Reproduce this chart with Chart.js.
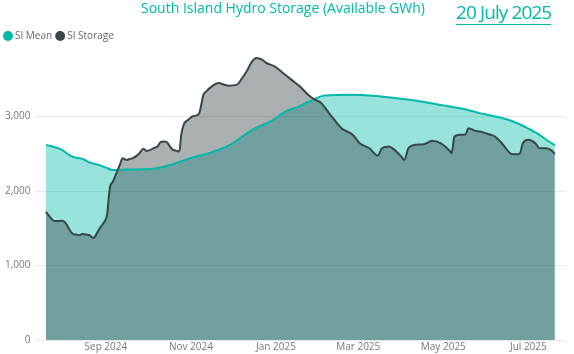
<!DOCTYPE html>
<html>
<head>
<meta charset="utf-8">
<script src="https://cdn.jsdelivr.net/npm/chart.js@4/dist/chart.umd.min.js"></script>
<style>
  body { margin: 0; background: #fff; }
  #wrap { position: relative; width: 574px; height: 354px; }
  #date {
    position: absolute; left: 456px; top: -1px;
    font-family: 'Open Sans', sans-serif; font-size: 19px; letter-spacing: -0.9px;
    color: #01B8AA; text-decoration: underline; text-underline-offset: 5px;
    text-decoration-thickness: 1px;
  }
</style>
</head>
<body>
<div id="wrap">
  <canvas id="myChart" width="574" height="354"></canvas>
  <div id="date">20 July 2025</div>
</div>
<script>
// Day offsets are counted from 20 July 2024
var startDate = '2024-07-20';

// SI Mean (GWh)
var meanDays = [0, 10, 19, 27, 31, 39, 43, 48, 60, 75, 89, 103, 118, 132, 148, 161, 173, 180, 189, 200, 218, 237, 254, 261, 285, 302, 311, 319, 335, 352, 364, 365];
var meanValues = [2620, 2565, 2462, 2425, 2385, 2345, 2314, 2283, 2290, 2295, 2350, 2439, 2516, 2620, 2822, 2934, 3078, 3123, 3203, 3284, 3294, 3275, 3240, 3225, 3150, 3092, 3046, 3015, 2934, 2776, 2628, 2620];

// SI Storage (GWh)
var storageDays = [0, 3, 6, 12, 15, 17, 19, 22, 24, 26, 29, 31, 34, 35, 37, 39, 41, 44, 45, 46, 48, 51, 53, 55, 58, 60, 62, 65, 67, 70, 72, 75, 77, 80, 82, 84, 87, 89, 91, 94, 95, 96, 97, 99, 101, 103, 105, 108, 110, 113, 115, 119, 124, 128, 131, 137, 140, 144, 148, 151, 155, 158, 164, 170, 176, 182, 188, 193, 197, 204, 212, 220, 225, 232, 238, 241, 246, 250, 255, 257, 260, 265, 271, 277, 283, 290, 291, 293, 297, 301, 303, 308, 313, 319, 322, 327, 333, 336, 340, 342, 346, 351, 354, 359, 363, 365];
var storageValues = [1720, 1650, 1598, 1600, 1546, 1478, 1429, 1415, 1407, 1424, 1415, 1410, 1370, 1384, 1451, 1509, 1563, 1700, 1900, 2058, 2125, 2260, 2350, 2439, 2418, 2431, 2439, 2472, 2507, 2566, 2539, 2553, 2574, 2597, 2651, 2664, 2651, 2597, 2553, 2539, 2530, 2560, 2750, 2900, 2943, 2970, 3001, 3015, 3046, 3294, 3338, 3406, 3450, 3428, 3415, 3428, 3496, 3608, 3743, 3787, 3765, 3720, 3675, 3585, 3496, 3406, 3294, 3226, 3190, 3024, 2844, 2755, 2642, 2574, 2476, 2574, 2597, 2553, 2460, 2418, 2574, 2620, 2628, 2674, 2642, 2530, 2507, 2732, 2755, 2760, 2844, 2808, 2790, 2755, 2732, 2642, 2507, 2493, 2507, 2642, 2687, 2642, 2574, 2574, 2539, 2495];

// x axis ticks (first of month)
var tickDates = ['2024-09-01', '2024-11-01', '2025-01-01', '2025-03-01', '2025-05-01', '2025-07-01'];
var tickLabels = ['Sep 2024', 'Nov 2024', 'Jan 2025', 'Mar 2025', 'May 2025', 'Jul 2025'];
var yTicks = [0, 1000, 2000, 3000];

function dayOf(s) {
    return Math.round((Date.parse(s) - Date.parse(startDate)) / 86400000);
}
var tickDays = tickDates.map(dayOf);

function toPoints(days, values) {
    return days.map(function (d, i) { return { x: d, y: values[i] }; });
}

var font = "'Open Sans', sans-serif";

var ctx = document.getElementById('myChart').getContext('2d');
var myChart = new Chart(ctx, {
    type: 'line',
    data: {
        datasets: [{
            label: 'SI Mean',
            data: toPoints(meanDays, meanValues),
            borderColor: '#01B8AA',
            backgroundColor: 'rgba(1, 184, 170, 0.4)',
            borderWidth: 2,
            fill: 'origin',
            pointRadius: 0,
            cubicInterpolationMode: 'monotone',
            order: 1
        }, {
            label: 'SI Storage',
            data: toPoints(storageDays, storageValues),
            borderColor: '#374649',
            backgroundColor: 'rgba(55, 70, 73, 0.42)',
            borderWidth: 2,
            fill: 'origin',
            pointRadius: 0,
            cubicInterpolationMode: 'monotone',
            order: 0
        }]
    },
    options: {
        responsive: false,
        animation: false,
        layout: { padding: { left: 0, right: 8, top: 0, bottom: 0 } },
        plugins: {
            filler: { drawTime: 'beforeDatasetsDraw' },
            tooltip: { enabled: false },
            title: {
                display: true,
                text: 'South Island Hydro Storage (Available GWh)',
                color: '#01B8AA',
                font: { family: font, size: 14, weight: 'normal', lineHeight: 1 },
                padding: { top: 2, bottom: 9 }
            },
            legend: {
                align: 'start',
                labels: {
                    usePointStyle: true,
                    pointStyle: 'circle',
                    boxWidth: 4,
                    boxHeight: 7,
                    padding: 6,
                    color: '#666',
                    font: { family: font, size: 10 },
                    sort: function (a, b) { return a.datasetIndex - b.datasetIndex; },
                    generateLabels: function (chart) {
                        var items = Chart.defaults.plugins.legend.labels.generateLabels(chart);
                        items.forEach(function (it) {
                            it.fillStyle = it.strokeStyle;
                            it.lineWidth = 0;
                        });
                        return items;
                    }
                }
            }
        },
        scales: {
            x: {
                type: 'linear',
                min: -7.5,
                max: 373,
                grid: { display: false, drawTicks: false },
                border: { display: false },
                afterBuildTicks: function (axis) {
                    axis.ticks = tickDays.map(function (d) { return { value: d }; });
                },
                ticks: {
                    autoSkip: false,
                    maxRotation: 0,
                    padding: 1,
                    color: '#777',
                    font: { family: font, size: 10 },
                    callback: function (v) {
                        var i = tickDays.indexOf(v);
                        return i >= 0 ? tickLabels[i] : '';
                    }
                }
            },
            y: {
                min: 0,
                max: 3880,
                afterBuildTicks: function (axis) {
                    axis.ticks = yTicks.map(function (v) { return { value: v }; });
                },
                grid: { color: '#E8E8E8', drawTicks: false },
                border: { display: false },
                ticks: {
                    padding: 5,
                    color: '#777',
                    font: { family: font, size: 10 },
                    callback: function (v) { return v.toLocaleString('en-US'); }
                }
            }
        }
    }
});
</script>
</body>
</html>
